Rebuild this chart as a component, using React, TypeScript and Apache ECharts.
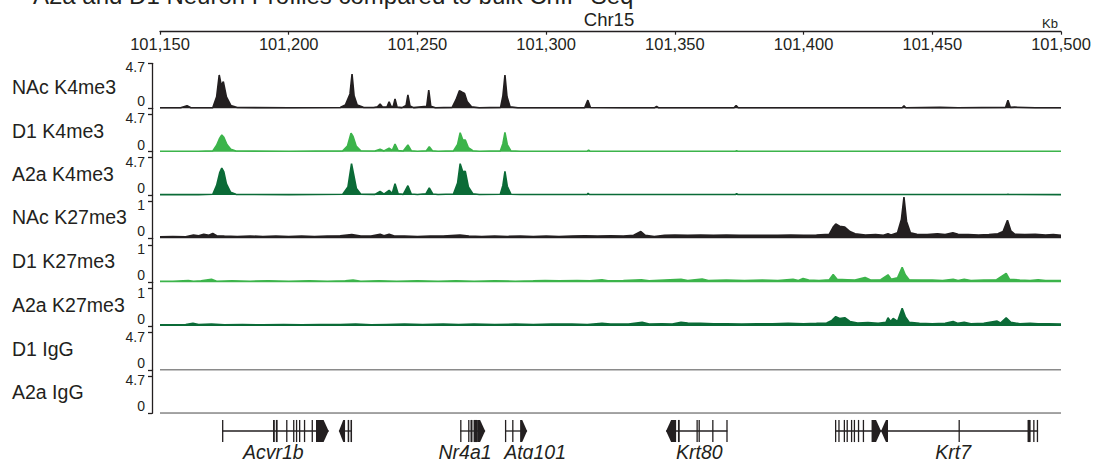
import React, { useEffect, useRef } from "react";
import * as echarts from "echarts";

// ---------- axis / labels ----------
const KB_MIN = 101150;
const KB_MAX = 101500;
const KB_STEP = 50;
const chromName = "Chr15";
const unitName = "Kb";
const titleText = "A2a and D1 Neuron Profiles compared to bulk ChIP-Seq";

const trackNames = ["NAc K4me3", "D1 K4me3", "A2a K4me3", "NAc K27me3", "D1 K27me3", "A2a K27me3", "D1 IgG", "A2a IgG"];
const trackMax = [4.7, 4.7, 4.7, 1, 1, 1, 4.7, 4.7];
const trackMaxLabels = ["4.7", "4.7", "4.7", "1", "1", "1", "4.7", "4.7"];

// ---------- signal values: [position in kb, signal] ----------
const nacK4me3 = [
  [101150, 0.05], [101158, 0.05], [101160.5, 0.27], [101162, 0.05],
  [101170.5, 0.06], [101172, 1.2], [101173, 3.48], [101173.8, 2.4], [101174.6, 2.78], [101175.8, 1.2], [101177.5, 0.3], [101180, 0.08],
  [101200, 0.05], [101220, 0.08], [101222, 0.35], [101223.8, 1.5], [101224.6, 3.58], [101225.4, 1.3], [101226.6, 0.35], [101229, 0.1],
  [101233, 0.08], [101234.5, 0.15], [101235.5, 0.45], [101236.5, 0.12], [101238.2, 0.15], [101239, 0.69], [101239.8, 0.15],
  [101240.6, 0.2], [101241.3, 0.97], [101242.1, 0.12], [101244, 0.07], [101245.6, 0.3], [101246.3, 1.39], [101247.1, 0.25],
  [101248.5, 0.07], [101253.6, 0.2], [101254.4, 1.91], [101255.2, 0.2], [101257, 0.06],
  [101263.5, 0.1], [101265, 0.9], [101266.3, 1.84], [101267.2, 1.7], [101268.3, 1.55], [101269.3, 0.7], [101271, 0.15], [101274, 0.06],
  [101282.3, 0.1], [101283.2, 1.3], [101284, 3.48], [101284.8, 1.2], [101286, 0.15], [101289, 0.06],
  [101300, 0.06], [101315, 0.07], [101316.2, 0.85], [101317.2, 0.08], [101330, 0.05], [101342.2, 0.06], [101342.9, 0.2],
  [101343.6, 0.06], [101360, 0.05], [101373, 0.06], [101373.8, 0.3], [101374.6, 0.06], [101400, 0.05], [101438.3, 0.06],
  [101439, 0.25], [101439.7, 0.06], [101453, 0.1], [101460, 0.05], [101478.5, 0.1], [101479.4, 0.85], [101480.3, 0.1],
  [101482, 0.12], [101490, 0.06], [101500, 0.05],
];

const d1K4me3 = [
  [101150, 0.06], [101165, 0.06], [101170.5, 0.1], [101172, 0.8], [101173.2, 1.7], [101174, 2.09], [101174.8, 1.8], [101176, 0.9],
  [101177.5, 0.3], [101179.5, 0.08], [101200, 0.06], [101221, 0.1], [101222.8, 0.7], [101224.2, 2.31], [101225, 1.9],
  [101226.2, 0.7], [101228, 0.12], [101233.5, 0.08], [101235.5, 0.3], [101237, 0.1], [101239, 0.43], [101240.2, 0.15],
  [101241.3, 0.96], [101242.5, 0.15], [101244.5, 0.08], [101246.3, 0.84], [101247.6, 0.12], [101250, 0.06], [101253.5, 0.12],
  [101254.6, 0.63], [101255.8, 0.12], [101258, 0.06], [101264, 0.1], [101265.6, 0.9], [101266.6, 2.38], [101267.6, 1.5],
  [101268.6, 1.47], [101269.8, 0.5], [101271.5, 0.12], [101274, 0.06], [101282.2, 0.1], [101283.2, 1.0], [101284, 2.43],
  [101284.9, 0.9], [101286.3, 0.1], [101290, 0.06], [101316, 0.06], [101316.5, 0.19], [101317, 0.06], [101373.5, 0.06],
  [101374, 0.12], [101374.5, 0.06], [101500, 0.06],
];

const a2aK4me3 = [
  [101150, 0.05], [101165, 0.05], [101170.5, 0.1], [101172, 1.2], [101173.2, 2.8], [101174, 3.38], [101174.8, 2.9], [101175.8, 1.4],
  [101177.4, 0.35], [101179.5, 0.08], [101200, 0.05], [101221, 0.1], [101223, 1.0], [101224.4, 3.92], [101225.2, 2.6],
  [101226.3, 0.8], [101228, 0.1], [101233.5, 0.08], [101235.5, 0.46], [101237, 0.12], [101239, 0.58], [101240.2, 0.18],
  [101241.3, 1.42], [101242.5, 0.15], [101244.5, 0.08], [101246.3, 1.16], [101247.6, 0.12], [101250, 0.06], [101253.3, 0.15],
  [101254.6, 0.88], [101256, 0.12], [101258, 0.06], [101264, 0.12], [101265.6, 1.5], [101266.6, 3.92], [101267.6, 2.9],
  [101268.6, 2.97], [101269.8, 1.0], [101271.5, 0.15], [101274, 0.06], [101282.2, 0.1], [101283.2, 1.2], [101284, 2.97],
  [101284.9, 1.1], [101286.3, 0.1], [101290, 0.06], [101316, 0.06], [101316.3, 0.22], [101316.8, 0.06], [101373.5, 0.06],
  [101374, 0.15], [101374.5, 0.06], [101479, 0.06], [101479.4, 0.1], [101479.8, 0.06], [101500, 0.05],
];

const nacK27me3 = [
  [101150, 0.04], [101155, 0.05], [101160, 0.04], [101163, 0.09], [101165, 0.07], [101167, 0.11], [101169, 0.08], [101170.5, 0.13],
  [101172, 0.07], [101175, 0.06], [101180, 0.05], [101185, 0.06], [101190, 0.05], [101195, 0.06], [101200, 0.05], [101205, 0.06],
  [101210, 0.05], [101215, 0.06], [101220, 0.07], [101224.5, 0.1], [101228, 0.06], [101232, 0.06], [101235.5, 0.11], [101237, 0.07],
  [101239, 0.11], [101241, 0.06], [101245, 0.06], [101250, 0.05], [101255, 0.06], [101260, 0.06], [101266.5, 0.09], [101270, 0.06],
  [101275, 0.05], [101280, 0.06], [101285, 0.05], [101290, 0.06], [101295, 0.05], [101300, 0.06], [101305, 0.05], [101310, 0.06],
  [101315, 0.07], [101320, 0.06], [101325, 0.07], [101330, 0.06], [101334, 0.08], [101336.8, 0.18], [101338.5, 0.08], [101342, 0.05],
  [101346, 0.08], [101350, 0.09], [101355, 0.08], [101360, 0.09], [101365, 0.08], [101370, 0.09], [101375, 0.08], [101380, 0.08],
  [101385, 0.08], [101390, 0.08], [101395, 0.09], [101400, 0.08], [101405, 0.09], [101410, 0.11], [101411.5, 0.3], [101412.5, 0.38],
  [101414, 0.32], [101416, 0.3], [101418, 0.18], [101420, 0.12], [101424, 0.09], [101428, 0.1], [101431, 0.08], [101432.8, 0.12],
  [101434, 0.09], [101436.5, 0.15], [101438, 0.5], [101439, 1.1], [101440, 0.45], [101441.5, 0.15], [101444, 0.11], [101448, 0.1],
  [101452, 0.12], [101455, 0.1], [101458, 0.15], [101460, 0.11], [101464, 0.1], [101468, 0.09], [101472, 0.1], [101475.5, 0.12],
  [101477.5, 0.18], [101479.2, 0.48], [101480.5, 0.2], [101482, 0.11], [101486, 0.1], [101490, 0.11], [101494, 0.09], [101497, 0.1],
  [101500, 0.08],
];

const d1K27me3 = [
  [101150, 0.03], [101155, 0.03], [101161, 0.05], [101163, 0.03], [101166, 0.04], [101170, 0.08], [101172, 0.03], [101178, 0.04],
  [101185, 0.03], [101192, 0.04], [101200, 0.03], [101208, 0.04], [101215, 0.03], [101222, 0.04], [101225, 0.06], [101228, 0.03],
  [101235, 0.04], [101242, 0.03], [101250, 0.04], [101258, 0.03], [101265, 0.04], [101272, 0.03], [101280, 0.04], [101288, 0.03],
  [101295, 0.04], [101299.6, 0.05], [101305, 0.04], [101312, 0.05], [101317, 0.04], [101321.7, 0.07], [101324, 0.04], [101330, 0.05],
  [101337, 0.07], [101340, 0.04], [101346, 0.06], [101352.4, 0.08], [101355, 0.05], [101360.6, 0.09], [101363, 0.05], [101370, 0.06],
  [101377, 0.05], [101384, 0.06], [101390, 0.05], [101395.9, 0.08], [101398, 0.05], [101399.8, 0.1], [101402, 0.06], [101406, 0.05],
  [101410, 0.07], [101411.5, 0.21], [101413, 0.08], [101417, 0.07], [101420, 0.06], [101423.9, 0.13], [101426, 0.06], [101430, 0.07],
  [101432.8, 0.2], [101434, 0.08], [101436.5, 0.12], [101438.3, 0.4], [101439.5, 0.2], [101441, 0.07], [101446, 0.06], [101450, 0.06],
  [101454, 0.05], [101458.1, 0.08], [101460, 0.05], [101462.4, 0.08], [101465, 0.05], [101470, 0.06], [101475, 0.07], [101478.7, 0.24],
  [101480, 0.08], [101484, 0.06], [101488, 0.05], [101491.1, 0.07], [101494, 0.05], [101500, 0.05],
];

const a2aK27me3 = [
  [101150, 0.03], [101156, 0.03], [101160, 0.04], [101162.8, 0.07], [101165, 0.04], [101170, 0.05], [101175, 0.03], [101182, 0.04],
  [101190, 0.03], [101198, 0.04], [101205, 0.03], [101212, 0.04], [101220, 0.04], [101226, 0.05], [101232, 0.03], [101238, 0.04],
  [101245, 0.05], [101252, 0.04], [101260, 0.05], [101266, 0.04], [101272, 0.05], [101280, 0.04], [101288, 0.05], [101295, 0.04],
  [101302, 0.05], [101310, 0.05], [101316, 0.04], [101321.7, 0.07], [101325, 0.05], [101332, 0.05], [101337.3, 0.1], [101340, 0.05],
  [101345, 0.06], [101349, 0.05], [101352.4, 0.1], [101355, 0.08], [101360, 0.07], [101365, 0.06], [101370, 0.06], [101376, 0.05],
  [101382, 0.06], [101388, 0.06], [101394, 0.07], [101400, 0.06], [101405, 0.07], [101409, 0.08], [101411, 0.15], [101412.5, 0.25],
  [101414, 0.2], [101416, 0.22], [101418, 0.12], [101421, 0.08], [101425, 0.09], [101429, 0.07], [101432, 0.1], [101432.8, 0.22],
  [101433.8, 0.12], [101434.8, 0.2], [101436.5, 0.12], [101438.3, 0.47], [101439.5, 0.25], [101441, 0.1], [101445, 0.07], [101450, 0.06],
  [101455, 0.07], [101458.1, 0.12], [101460, 0.07], [101462.4, 0.1], [101465, 0.06], [101470, 0.07], [101475.2, 0.13], [101476.5, 0.08],
  [101478.7, 0.22], [101480.5, 0.1], [101484, 0.06], [101488, 0.07], [101491.1, 0.06], [101495, 0.06], [101500, 0.05],
];

const d1IgG = [
  [101150, 0.03], [101190, 0.04], [101230, 0.03], [101270, 0.04], [101310, 0.03], [101350, 0.04], [101390, 0.03], [101430, 0.04],
  [101470, 0.03], [101500, 0.03],
];

const a2aIgG = [
  [101150, 0.04], [101190, 0.03], [101230, 0.04], [101270, 0.03], [101310, 0.04], [101350, 0.03], [101390, 0.04], [101430, 0.03],
  [101470, 0.04], [101500, 0.03],
];

const trackData = [nacK4me3, d1K4me3, a2aK4me3, nacK27me3, d1K27me3, a2aK27me3, d1IgG, a2aIgG];

// ---------- gene models (kb) ----------
const geneNames = ["Acvr1b", "", "Nr4a1", "Atg101", "Krt80", "", "Krt7"];
const geneSpans = [
  [101174.1, 101215.5], [101219.5, 101224.6], [101266.6, 101276.3], [101284.0, 101292.6],
  [101346.6, 101370.4], [101412.2, 101430.1], [101430.1, 101491.1],
];
const geneStrands = ["+", "-", "+", "+", "-", "+", "-"];
const geneLabelAt = [101194.0, 0, 101268.5, 101295.7, 101359.5, 0, 101458.1];
const geneExons = [
  [[101174.1, 101174.4], [101193.9, 101194.6], [101195.0, 101195.7], [101199.0, 101199.5], [101201.7, 101202.1],
   [101202.8, 101203.2], [101204.0, 101204.4], [101205.9, 101206.4], [101208.9, 101209.3]],
  [[101222.9, 101223.5], [101224.0, 101224.6]],
  [[101266.6, 101267.0], [101269.7, 101270.2], [101270.6, 101271.4], [101271.8, 101273.2]],
  [[101284.0, 101284.4], [101286.8, 101287.2]],
  [[101351.2, 101351.9], [101358.4, 101358.8], [101359.2, 101359.6], [101364.5, 101364.9], [101370.0, 101370.4]],
  [[101412.2, 101412.6], [101413.5, 101413.9], [101415.6, 101416.0], [101416.7, 101417.1], [101418.4, 101418.8],
   [101419.5, 101419.9], [101421.1, 101421.5], [101423.0, 101423.4]],
  [[101460.2, 101460.6], [101487.0, 101488.2], [101489.2, 101489.6], [101490.6, 101491.1]],
];
const geneArrowExon = [
  [101210.6, 101215.5], [101219.5, 101221.9], [101273.2, 101276.3], [101289.9, 101292.6],
  [101346.6, 101350.5], [101426.4, 101430.1], [101430.1, 101432.8],
];

// ---------- layout / style ----------
const INK = "#231f20";
const FONT = "'Liberation Sans', Arial, Helvetica, sans-serif";
const trackColors = [INK, "#3cb44b", "#0b6b37", INK, "#3cb44b", "#0b6b37", "#8a8a8a", "#8a8a8a"];
const PLOT_LEFT = 160;
const PLOT_WIDTH = 901;
const AXIS_OFFSET = 8;
const FIRST_TOP = 63.3;
const BASELINES = [108.3, 151.7, 195, 238.3, 282.3, 326, 370, 413.3];
const TICK_SPAN = 37.5;
const RULER_Y = 31.7;
const GENE_TOP = 418;
const GENE_H = 26;

function buildOption() {
  const grids: any[] = [];
  const xAxes: any[] = [];
  const yAxes: any[] = [];
  const series: any[] = [];
  const graphics: any[] = [];

  trackNames.forEach((name, i) => {
    const top = i === 0 ? FIRST_TOP : BASELINES[i - 1];
    const height = BASELINES[i] - top;
    const M = trackMax[i];
    const yMax = i === 0 ? M : (M * height) / TICK_SPAN;
    grids.push({ left: PLOT_LEFT, width: PLOT_WIDTH, top, height });
    xAxes.push({ gridIndex: i, type: "value", min: KB_MIN, max: KB_MAX, show: false });
    yAxes.push({
      gridIndex: i, type: "value", min: 0, max: yMax, position: "left", offset: AXIS_OFFSET,
      axisLine: { show: true, lineStyle: { color: INK, width: 1.3 } },
      axisTick: { show: true, length: 4, customValues: [0, M], lineStyle: { color: INK, width: 1.3 } },
      axisLabel: { show: true, customValues: [0], margin: 7, fontSize: 14, color: INK, fontFamily: FONT, verticalAlign: "bottom", formatter: () => "0" },
      splitLine: { show: false },
    });
    yAxes.push({
      gridIndex: i, type: "value", min: 0, max: yMax, position: "left", offset: AXIS_OFFSET,
      axisLine: { show: false }, axisTick: { show: false },
      axisLabel: { show: true, customValues: [M], margin: 7, fontSize: 14, color: INK, fontFamily: FONT, verticalAlign: "top", padding: [-3, 0, 0, 0], formatter: () => trackMaxLabels[i] },
      splitLine: { show: false },
    });
    series.push({
      type: "line", name, xAxisIndex: i, yAxisIndex: 2 * i, data: trackData[i], symbol: "none", showSymbol: false,
      lineStyle: { color: trackColors[i], width: 1.6 }, areaStyle: { color: trackColors[i], opacity: 1 },
      clip: false, silent: true, z: 3,
    });
    graphics.push({
      type: "text", x: 12, y: BASELINES[i] - 21,
      style: { text: name, fontSize: 19.5, fontFamily: FONT, fill: INK, verticalAlign: "middle", align: "left" },
    });
  });

  // gene track
  const gi = trackNames.length;
  grids.push({ left: PLOT_LEFT, width: PLOT_WIDTH, top: GENE_TOP, height: GENE_H });
  xAxes.push({ gridIndex: gi, type: "value", min: KB_MIN, max: KB_MAX, show: false });
  yAxes.push({ gridIndex: gi, type: "value", min: 0, max: 1, show: false });
  series.push({
    type: "custom", xAxisIndex: gi, yAxisIndex: yAxes.length - 1, clip: false, silent: true,
    data: geneSpans.map((s, k) => [s[0], s[1], k]),
    encode: { x: [0, 1] },
    renderItem: (params: any, api: any) => {
      const k = api.value(2);
      const yMid = api.coord([geneSpans[k][0], 0.5])[1];
      const h = api.size([0, 0.85])[1];
      const px = (v: number) => api.coord([v, 0.5])[0];
      const children: any[] = [];
      children.push({
        type: "line", shape: { x1: px(geneSpans[k][0]), y1: yMid, x2: px(geneSpans[k][1]), y2: yMid },
        style: { stroke: INK, lineWidth: 1.3 },
      });
      geneExons[k].forEach(([s, e]) => {
        const xs = px(s);
        const w = Math.max(px(e) - xs, 1.3);
        children.push({ type: "rect", shape: { x: xs, y: yMid - h / 2, width: w, height: h }, style: { fill: INK } });
      });
      const a = geneArrowExon[k];
      const xs = px(a[0]);
      const xe = px(a[1]);
      const tip = Math.min(5, (xe - xs) * 0.7);
      const t = yMid - h / 2;
      const b = yMid + h / 2;
      const pts = geneStrands[k] === "+"
        ? [[xs, t], [xe - tip, t], [xe, yMid], [xe - tip, b], [xs, b]]
        : [[xe, t], [xs + tip, t], [xs, yMid], [xs + tip, b], [xe, b]];
      children.push({ type: "polygon", shape: { points: pts }, style: { fill: INK } });
      if (geneNames[k]) {
        children.push({
          type: "text", x: px(geneLabelAt[k]), y: yMid + 21,
          style: { text: geneNames[k], fontSize: 19.5, fontStyle: "italic", fontFamily: FONT, fill: INK, align: "center", verticalAlign: "middle" },
        });
      }
      return { type: "group", children };
    },
  });

  // ruler
  const ri = gi + 1;
  grids.push({ left: PLOT_LEFT, width: PLOT_WIDTH, top: RULER_Y - 20, height: 20 });
  xAxes.push({
    gridIndex: ri, type: "value", min: KB_MIN, max: KB_MAX, interval: KB_STEP, position: "bottom",
    axisLine: { show: true, lineStyle: { color: INK, width: 1.3 } },
    axisTick: { show: true, length: 3, lineStyle: { color: INK, width: 1.2 } },
    axisLabel: {
      show: true, margin: 4, fontSize: 16.5, color: INK, fontFamily: FONT,
      formatter: (v: number) => Math.round(v).toLocaleString("en-US"),
    },
    splitLine: { show: false },
  });
  yAxes.push({ gridIndex: ri, type: "value", show: false, min: 0, max: 1 });

  graphics.push(
    { type: "text", x: 33, y: -5, style: { text: titleText, fontSize: 24, fontFamily: FONT, fill: INK, verticalAlign: "middle" } },
    { type: "text", x: 609, y: 19, style: { text: chromName, fontSize: 18.5, fontFamily: FONT, fill: INK, align: "center", verticalAlign: "middle" } },
    { type: "text", x: 1050, y: 23, style: { text: unitName, fontSize: 13, fontFamily: FONT, fill: INK, align: "center", verticalAlign: "middle" } },
  );

  return {
    animation: false,
    backgroundColor: "#ffffff",
    grid: grids,
    xAxis: xAxes,
    yAxis: yAxes,
    series,
    graphic: graphics,
  };
}

export default function App() {
  const ref = useRef<HTMLDivElement>(null);
  useEffect(() => {
    if (!ref.current) return;
    const chart = echarts.init(ref.current, null, { renderer: "svg" });
    chart.setOption(buildOption() as any);
    return () => chart.dispose();
  }, []);
  return (
    <div
      ref={ref}
      style={{ position: "fixed", left: 0, top: 0, width: 1094, height: 459, background: "#fff" }}
    />
  );
}
